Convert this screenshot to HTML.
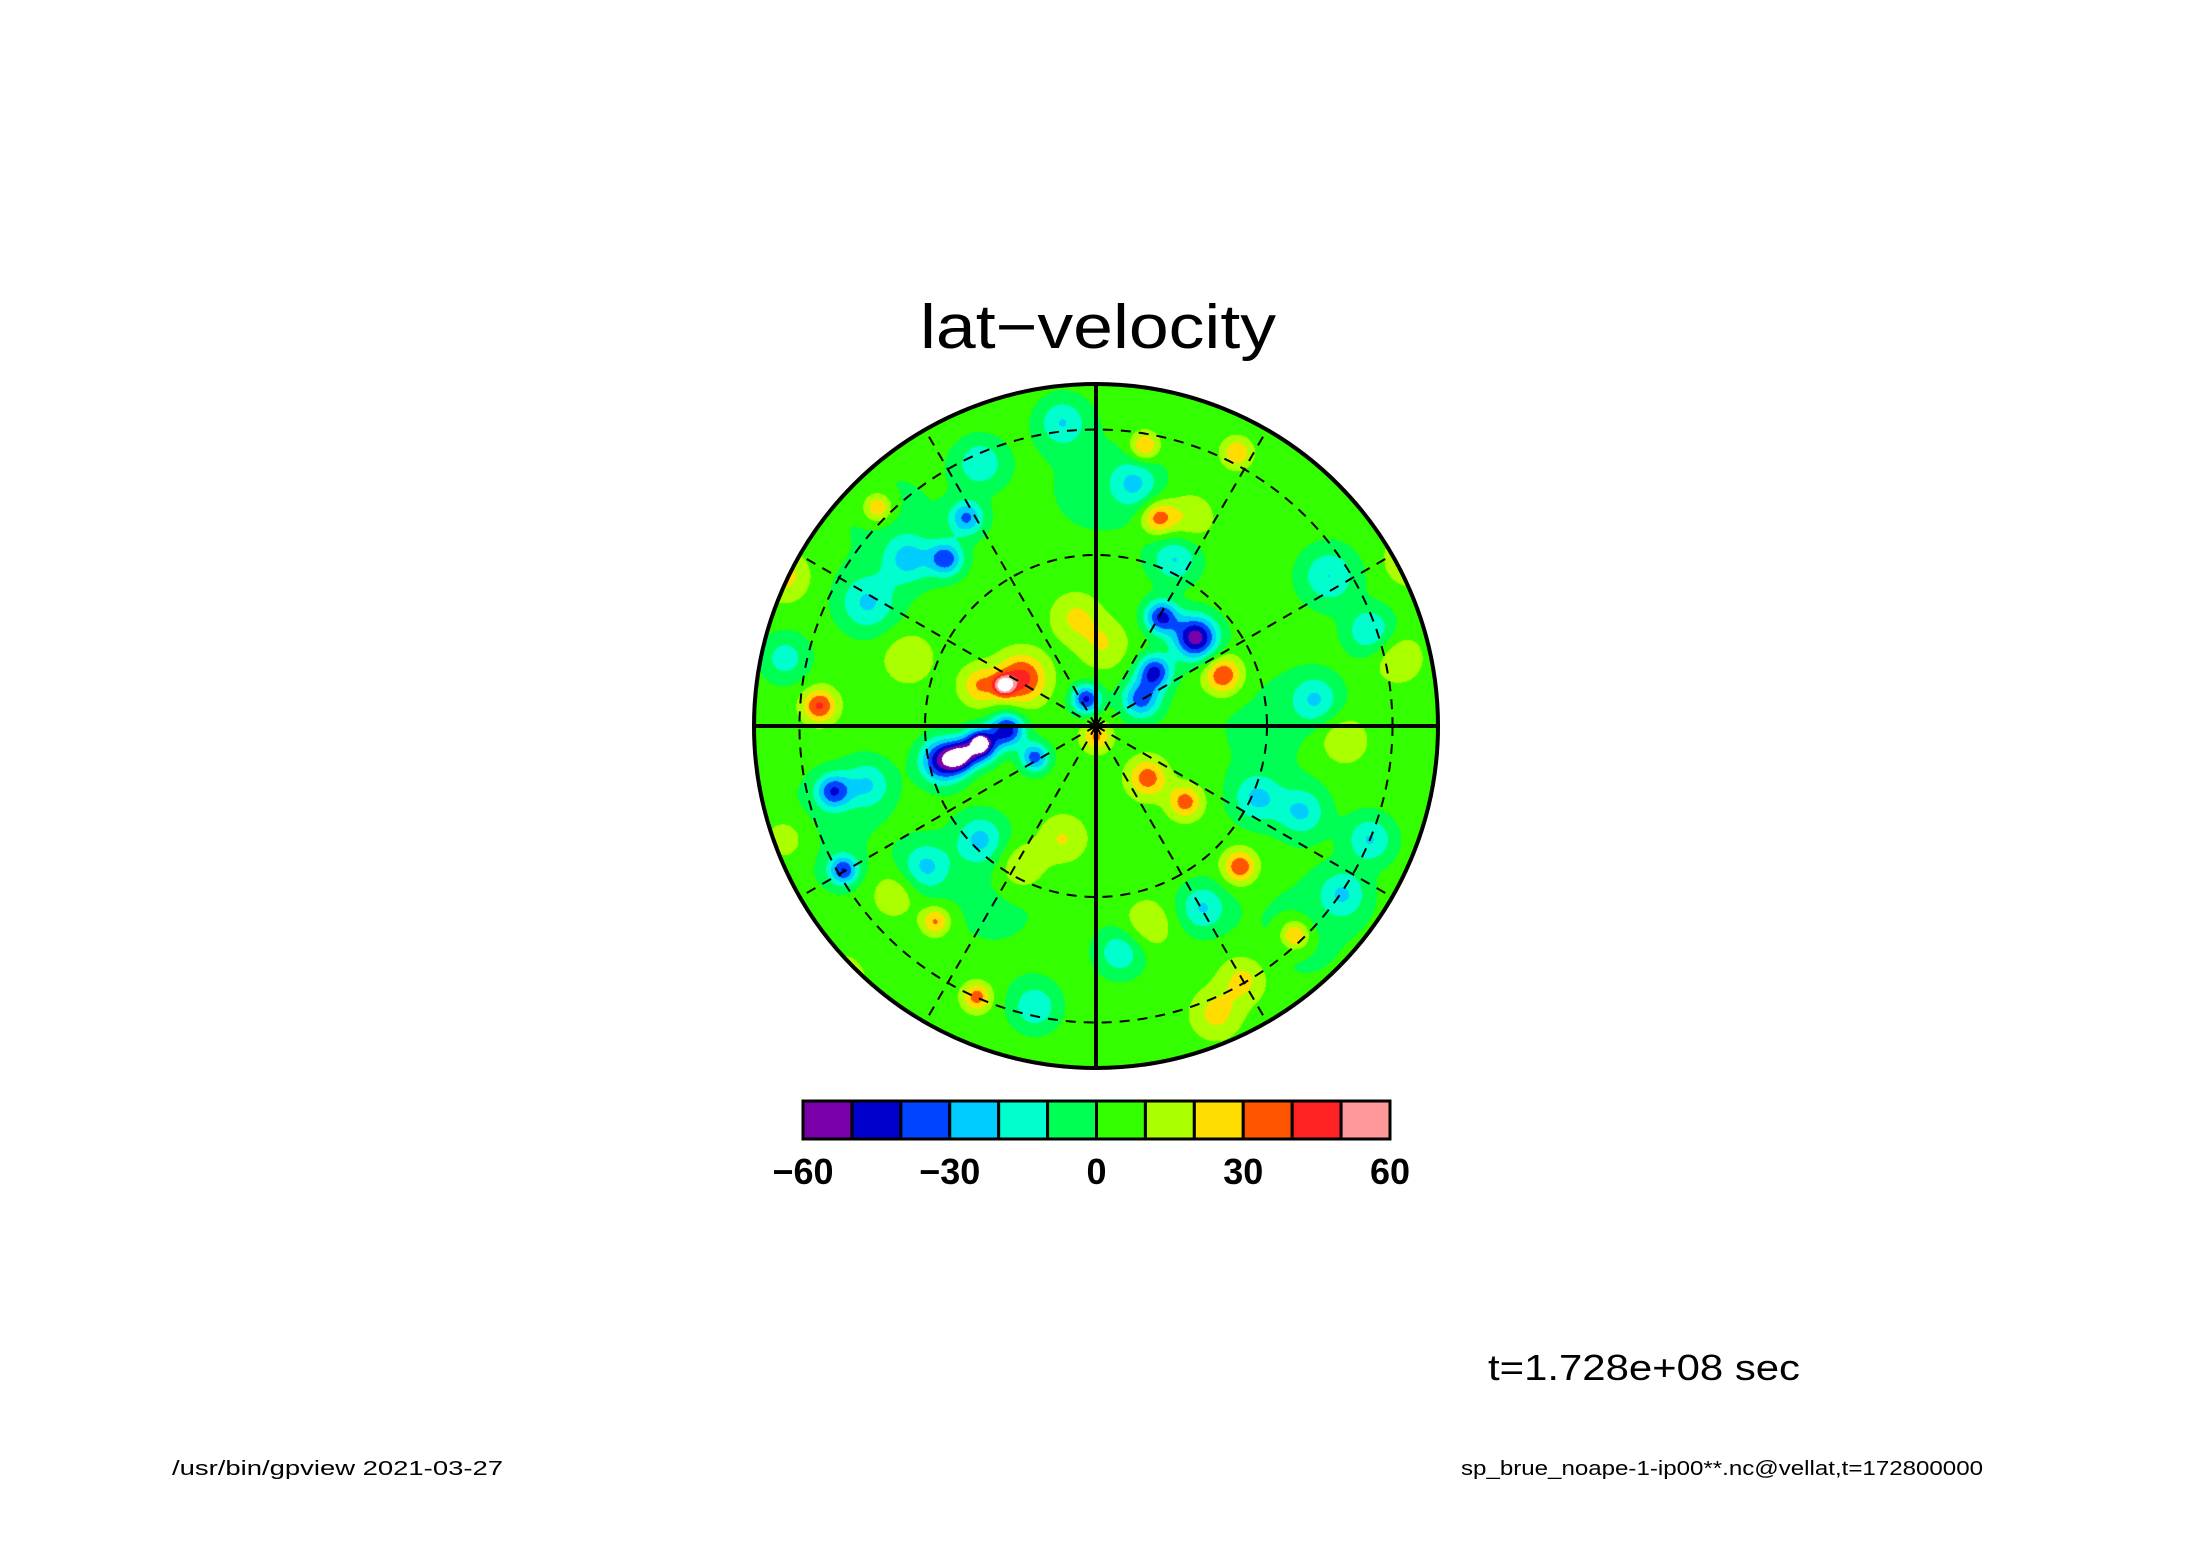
<!DOCTYPE html>
<html><head><meta charset="utf-8">
<style>
body{margin:0;background:#fff;}
#wrap{position:relative;width:2188px;height:1546px;overflow:hidden;background:#fff;font-family:"Liberation Sans",sans-serif;}
</style></head>
<body>
<div id="wrap">
<canvas id="fld" width="700" height="700" style="position:absolute;left:746px;top:376px;"></canvas>
<svg id="ov" width="2188" height="1546" style="position:absolute;left:0;top:0;">
<text x="920" y="348" textLength="356" lengthAdjust="spacingAndGlyphs" font-size="62" font-family="Liberation Sans, sans-serif">lat−velocity</text>
<text x="1488" y="1380" textLength="312" lengthAdjust="spacingAndGlyphs" font-size="36" font-family="Liberation Sans, sans-serif">t=1.728e+08 sec</text>
<text x="172" y="1475" textLength="331" lengthAdjust="spacingAndGlyphs" font-size="20" font-family="Liberation Sans, sans-serif">/usr/bin/gpview  2021-03-27</text>
<text x="1461" y="1475" textLength="522" lengthAdjust="spacingAndGlyphs" font-size="20" font-family="Liberation Sans, sans-serif">sp_brue_noape-1-ip00**.nc@vellat,t=172800000</text>
</svg>
</div>
<script>
// colour levels
const levels=[-60,-50,-40,-30,-20,-10,0,10,20,30,40,50,60];
const colors=["#7a00aa","#0000cc","#0044ff","#00ccff","#00ffcc","#00ff55","#33ff00","#aaff00","#ffdd00","#ff5500","#ff2222","#ff9999"];
const tickLabels=["−60","−30","0","30","60"];
const tickValues=[-60,-30,0,30,60];
// field features: x,y (fraction of radius, y up), peak value, width
const blobX=[-0.22,-0.27,-0.45,-0.34,-0.26,-0.03,-0.18,0.29,0.19,0.13,0.17,0.37,0.15,0.26,-0.81,-0.34,0.42,0.58,-0.35,0.18,0.14,0.41,-0.64,-0.47,-0.44,-0.38,-0.77,-0.74,
 -0.67,-0.55,-0.34,-0.1,0.11,0.23,0.68,0.8,0.64,0.47,0.6,0.8,-0.34,-0.5,-0.67,-0.18,0.07,0.31,0.72,-0.91,
 -0.91,0.92,-0.55,-0.06,0.02,0.72,0.43,0.35,0.15,-0.22,-0.1,-0.59,-0.91,-0.75,0.27,0.88,
 -0.3,0.5,0.0,-0.6,0.6,-0.8,-0.34,0.0,-0.40];
const blobY=[0.14,0.12,-0.10,-0.055,-0.01,0.08,-0.09,0.26,0.32,0.08,0.16,0.15,-0.15,-0.22,0.06,0.12,-0.41,-0.61,-0.79,0.61,0.82,0.80,0.64,-0.57,0.49,0.61,-0.19,-0.42,
 0.36,0.49,0.77,0.89,0.71,0.49,0.44,0.28,0.08,-0.21,-0.25,-0.33,-0.33,-0.41,-0.17,-0.82,-0.66,-0.53,-0.49,0.2,
 0.44,0.49,0.2,0.32,0.24,-0.04,-0.74,-0.84,-0.58,-0.41,-0.33,-0.49,-0.33,-0.74,0.61,0.2,
 -0.5,0.0,0.7,0.6,-0.6,-0.3,-0.05,-0.03,-0.09];
const blobV=[45,53,-50,-58,-45,-42,-35,-55,-42,-35,-42,42,36,36,42,30,40,36,36,36,34,30,34,34,-34,-30,-34,-36,
 -20,-20,-18,-18,-18,-20,-20,-20,-18,-20,-20,-20,-20,-20,-18,-18,-18,-20,-18,-15,
 24,24,20,22,20,22,25,24,20,24,22,20,20,20,20,20,
 -2,-2,-2,-2,-2,-2,-65,32,-40];
const blobS=[0.05,0.02,0.045,0.035,0.035,0.03,0.03,0.045,0.035,0.04,0.035,0.04,0.04,0.035,0.035,0.04,0.035,0.03,0.03,0.035,0.03,0.03,0.03,0.03,0.035,0.035,0.035,0.03,
 0.06,0.05,0.05,0.05,0.05,0.05,0.06,0.05,0.05,0.05,0.05,0.05,0.05,0.05,0.05,0.05,0.05,0.05,0.05,0.05,
 0.05,0.05,0.05,0.05,0.05,0.05,0.05,0.05,0.05,0.05,0.05,0.05,0.05,0.05,0.05,0.05,
 0.15,0.15,0.15,0.15,0.15,0.15,0.012,0.03,0.03];
const background=5;

const CX=1096, CY=726, R=342;
const cv=document.getElementById('fld');const ctx=cv.getContext('2d');
const W=700, ox=CX-746, oy=CY-376;
const img=ctx.createImageData(W,W);
function hex(c){return [parseInt(c.substr(1,2),16),parseInt(c.substr(3,2),16),parseInt(c.substr(5,2),16)];}
const rgb=colors.map(hex);
function colorIndex(v){for(let i=0;i<colors.length;i++){if(v<levels[i+1])return i;}return colors.length-1;}
for(let py=0;py<W;py++){for(let px=0;px<W;px++){
 const x=(px-ox)/R, y=-(py-oy)/R;
 if(x*x+y*y>1)continue;
 let v=background;
 for(let k=0;k<blobX.length;k++){const dx=x-blobX[k],dy=y-blobY[k];const s=blobS[k];
  const d2=dx*dx+dy*dy; if(d2>16*s*s)continue;
  v+=(blobV[k]-background)*Math.exp(-d2/(2*s*s));}
 let c;
 if(v>=60||v<=-60) c=[255,255,255]; else c=rgb[colorIndex(v)];
 const o=(py*W+px)*4;img.data[o]=c[0];img.data[o+1]=c[1];img.data[o+2]=c[2];img.data[o+3]=255;}}
ctx.putImageData(img,0,0);

const ov=document.getElementById('ov');const NS='http://www.w3.org/2000/svg';
function mk(t,a){const e=document.createElementNS(NS,t);for(const k in a)e.setAttribute(k,a[k]);ov.appendChild(e);return e;}
[0.5,0.867].forEach(f=>{const e=mk('circle',{cx:CX,cy:CY,r:R*f,fill:'none',stroke:'#000','stroke-width':2,'stroke-dasharray':'10 8'});

});
for(let a=0;a<360;a+=30){const rad=a*Math.PI/180;const solid=(a%90===0);
 const e=mk('line',{x1:CX,y1:CY,x2:CX+R*Math.cos(rad),y2:CY-R*Math.sin(rad),stroke:'#000','stroke-width':solid?4:2,'stroke-dasharray':solid?'none':'10 8'});
 
 }
const bd=mk('circle',{cx:CX,cy:CY,r:R,fill:'none',stroke:'#000','stroke-width':4});


// colorbar
const bx0=803,bx1=1390,by=1101,bh=38;
const bw=(bx1-bx0)/colors.length;
colors.forEach((c,i)=>{const e=mk('rect',{x:bx0+i*bw,y:by,width:bw,height:bh,fill:c,stroke:'#000','stroke-width':3});

});
tickValues.forEach((v,i)=>{const x=bx0+(v-levels[0])/(levels[levels.length-1]-levels[0])*(bx1-bx0);
 const e=mk('text',{x:x,y:1184,'text-anchor':'middle','font-size':36,'font-weight':'bold','font-family':'Liberation Sans, sans-serif'});
 e.textContent=tickLabels[i];
 
 });
</script>
</body></html>
